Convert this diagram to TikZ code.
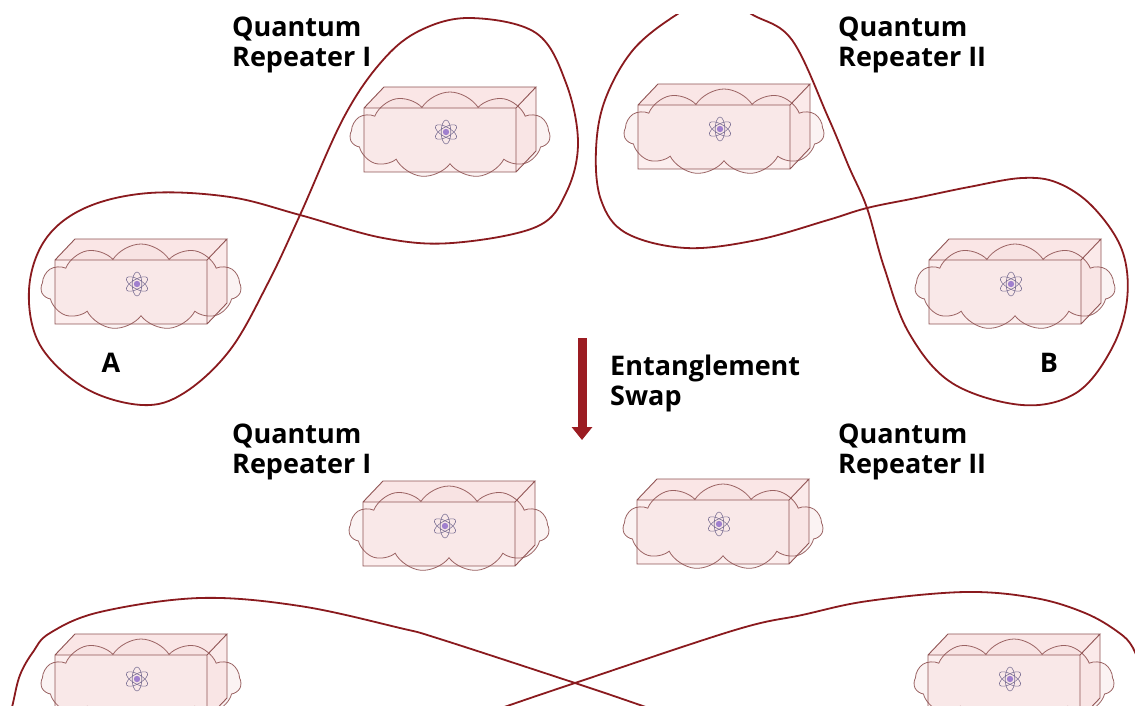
\documentclass[tikz,border=0pt]{standalone}
\usepackage{fontspec}
\setmainfont{Open Sans}
\usetikzlibrary{shapes.symbols,arrows.meta}
\definecolor{loopred}{HTML}{8A1A1E}
\definecolor{arrowred}{HTML}{9B1C22}
\definecolor{boxlinecol}{HTML}{905454}
\definecolor{boxfillcol}{HTML}{FCEEEE}
\definecolor{boxtopcol}{HTML}{FAE6E6}
\definecolor{boxsidecol}{HTML}{FBEAEA}
\definecolor{cloudfillcol}{HTML}{F6DEDE}
\definecolor{atomcol}{HTML}{7E7296}
\definecolor{nucleuscol}{HTML}{8A66C8}
\tikzset{
  loopline/.style={draw=loopred, line width=1.8pt},
  boxline/.style={draw=boxlinecol, line width=0.9pt},
  cloudy/.style={cloud, cloud puffs=11, cloud puff arc=115, cloud ignores aspect,
    minimum width=200pt, minimum height=86pt, inner sep=0pt,
    draw=boxlinecol, line width=0.8pt, fill=cloudfillcol, fill opacity=0.35, draw opacity=0.9},
  atomline/.style={draw=atomcol, line width=0.6pt},
  lbl/.style={font=\fontsize{27}{30}\selectfont\bfseries, inner sep=0pt, text=black},
  qbox/.pic={
    \fill[boxfillcol] (0,0) rectangle (152,64);
    \fill[boxtopcol] (0,0) -- (20,-21) -- (172,-21) -- (152,0) -- cycle;
    \fill[boxsidecol] (152,0) -- (172,-21) -- (172,43) -- (152,64) -- cycle;
    \node[cloudy] (-cloud) at (86,27) {};
    \draw[boxline] (0,0) rectangle (152,64) (0,0) -- (20,-21) -- (172,-21) -- (152,0)
      (172,-21) -- (172,43) -- (152,64);
    \begin{scope}[shift={(82,24)}]
      \foreach \a in {0,60,120} \draw[atomline, rotate=\a] (0,0) ellipse [x radius=4.8, y radius=12];
      \fill[nucleuscol, opacity=0.8] (0,0) circle (3.2);
    \end{scope}
  }
}
\begin{document}
\begin{tikzpicture}[x=1pt,y=-1pt]
\fill[white] (0,0) rectangle (1135,705);
\useasboundingbox (0,0) rectangle (1135,705);
\begin{scope}
\clip (0,14) rectangle (1135,705);
% boxes
\pic (bA) at (55,260) {qbox};
\pic (bR1) at (364,108) {qbox};
\pic (bR2) at (638,105) {qbox};
\pic (bB) at (929,260) {qbox};
\pic (bR1b) at (363,502) {qbox};
\pic (bR2b) at (637,500) {qbox};
\pic (bL) at (55,655) {qbox};
\pic (bR) at (928,655) {qbox};
% entanglement loops
\draw[loopline] plot[smooth cycle, tension=0.6] coordinates {
  (300,215) (344,117) (383,60) (421,30) (471,18) (536,33) (566,83) (578,143)
  (566,193) (536,227) (452,243) (383,238) (300,215) (230,197) (149,193) (85,208)
  (45,240) (29,290) (40,345) (85,388) (142,405) (184,393) (230,350) (268,283)};
\draw[loopline] plot[smooth cycle, tension=0.6] coordinates {
  (867,208) (849,167) (828,117) (792,40) (753,15) (715,-4) (676,15) (633,50)
  (605,100) (596,150) (601,200) (626,233) (686,248) (757,240) (828,220) (867,208)
  (916,198) (969,187) (1022,178) (1058,183) (1093,207) (1122,250) (1127,300)
  (1111,350) (1076,393) (1022,405) (952,383) (909,333) (884,267)};
\draw[loopline] plot[smooth, tension=0.6] coordinates {
  (8,725) (13,703) (20,675) (33,652) (50,633) (100,612) (200,598) (300,606)
  (400,628) (440,639) (575,683) (640,705) (700,726)};
\draw[loopline] plot[smooth, tension=0.6] coordinates {
  (450,726) (510,705) (575,683) (735,630) (802,615) (868,601) (965,592)
  (1035,598) (1085,613) (1118,632) (1133,648) (1145,680)};
% labels
\node[lbl, anchor=base west] (q1) at (232,36) {\begin{tabular}[t]{@{}l@{}}Quantum\\Repeater I\end{tabular}};
\node[lbl, anchor=base west] (q2) at (838,36) {\begin{tabular}[t]{@{}l@{}}Quantum\\Repeater II\end{tabular}};
\node[lbl, anchor=base west] (q3) at (232,443) {\begin{tabular}[t]{@{}l@{}}Quantum\\Repeater I\end{tabular}};
\node[lbl, anchor=base west] (q4) at (838,443) {\begin{tabular}[t]{@{}l@{}}Quantum\\Repeater II\end{tabular}};
\node[lbl, anchor=base west] (es) at (610,375) {\begin{tabular}[t]{@{}l@{}}Entanglement\\Swap\end{tabular}};
\node[lbl, anchor=base] (la) at (111,372) {A};
\node[lbl, anchor=base] (lb) at (1049,372) {B};
% arrow
\coordinate (arrs) at (582,338);
\coordinate (arre) at (582,440);
\draw[arrowred, line width=9pt, -{Triangle[width=20pt,length=13pt]}] (arrs) -- (arre);
\end{scope}
\end{tikzpicture}
\end{document}
